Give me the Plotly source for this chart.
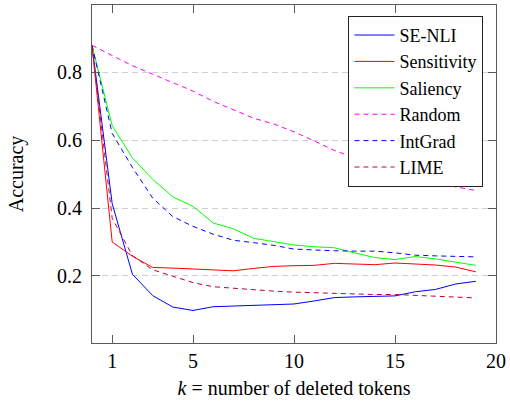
import plotly.graph_objects as go

k = list(range(20))

se_nli = [0.880, 0.413, 0.205, 0.142, 0.108, 0.098, 0.109, 0.111, 0.114, 0.116,
          0.117, 0.126, 0.136, 0.138, 0.140, 0.141, 0.153, 0.160, 0.176, 0.184]
sensitivity = [0.880, 0.300, 0.258, 0.225, 0.223, 0.221, 0.218, 0.215, 0.222, 0.228,
               0.230, 0.231, 0.237, 0.236, 0.233, 0.238, 0.235, 0.232, 0.226, 0.212]
saliency = [0.880, 0.643, 0.548, 0.485, 0.433, 0.405, 0.356, 0.339, 0.311, 0.300,
            0.291, 0.286, 0.283, 0.268, 0.254, 0.248, 0.257, 0.250, 0.240, 0.231]
random_ = [0.880, 0.850, 0.820, 0.795, 0.770, 0.745, 0.715, 0.690, 0.665, 0.648,
           0.625, 0.598, 0.570, 0.548, 0.528, 0.508, 0.488, 0.473, 0.462, 0.452]
intgrad = [0.880, 0.620, 0.520, 0.430, 0.375, 0.346, 0.323, 0.305, 0.298, 0.290,
           0.279, 0.276, 0.274, 0.273, 0.273, 0.268, 0.261, 0.259, 0.258, 0.256]
lime = [0.880, 0.370, 0.260, 0.218, 0.199, 0.180, 0.168, 0.163, 0.158, 0.155,
        0.152, 0.150, 0.148, 0.146, 0.145, 0.145, 0.143, 0.141, 0.139, 0.135]

series = [
    ("SE-NLI", se_nli, "#0000ff", "solid"),
    ("Sensitivity", sensitivity, "#ff0000", "solid"),
    ("Saliency", saliency, "#00ff00", "solid"),
    ("Random", random_, "#ff00ff", "5px,4px"),
    ("IntGrad", intgrad, "#0000ff", "5px,4px"),
    ("LIME", lime, "#bf0040", "5px,4px"),
]

x_ticks = [1, 5, 10, 15, 20]
y_ticks = [0.2, 0.4, 0.6, 0.8]

FONT = "'Liberation Serif', 'Times New Roman', Times, serif"

fig = go.Figure()
for i, (name, vals, color, dash) in enumerate(series):
    fig.add_trace(go.Scatter(
        x=k, y=vals, mode="lines", name=name,
        line=dict(color=color, width=1, dash=dash),
        legendgroup=f"g{i}",
    ))

axis_common = dict(
    showline=True, linecolor="#5a5a5a", linewidth=1, mirror="ticks",
    ticks="inside", ticklen=8, tickcolor="#5a5a5a", tickwidth=1,
    tickfont=dict(family=FONT, size=20, color="black"),
    zeroline=False, ticklabeloverflow="allow",
)

fig.update_xaxes(
    range=[0, 20], tickvals=x_ticks, showgrid=False,
    title=dict(text="<i>k</i> = number of deleted tokens",
               font=dict(family=FONT, size=20, color="black"), standoff=9),
    **axis_common,
)
fig.update_yaxes(
    range=[0.002, 0.999], tickvals=y_ticks, tickformat=".1f",
    showgrid=True, gridcolor="#d0d0d0", gridwidth=1.2, griddash="6px,4px",
    ticklabelstandoff=5,
    title=dict(text="Accuracy", font=dict(family=FONT, size=20, color="black"),
               standoff=28),
    **axis_common,
)

fig.update_layout(
    width=510, height=404,
    margin=dict(l=92, r=9, t=4, b=61),
    paper_bgcolor="white", plot_bgcolor="white",
    font=dict(family=FONT, size=20, color="black"),
    showlegend=True,
    legend=dict(
        x=0.969, y=0.968, xanchor="right", yanchor="top",
        bgcolor="white", bordercolor="#222222", borderwidth=1,
        font=dict(family=FONT, size=18, color="black"),
        tracegroupgap=0, itemwidth=40,
    ),
)

fig.write_html("out.html")
